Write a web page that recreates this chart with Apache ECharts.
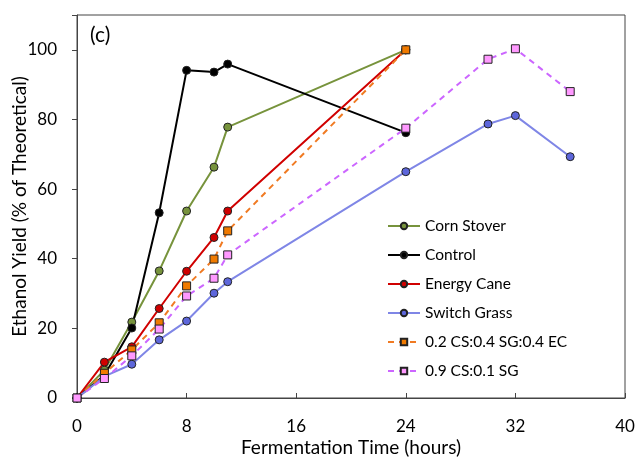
<!DOCTYPE html>
<html>
<head>
<meta charset="utf-8">
<script src="https://cdn.jsdelivr.net/npm/echarts@6/dist/echarts.min.js"></script>
<style>
  body { margin: 0; background: #fff; }
  #main { width: 638px; height: 457px; }
</style>
</head>
<body>
<div id="main"></div>
<script>
// fermentation times (hours)
var times = [0, 2, 4, 6, 8, 10, 11, 24];
var timesLong = [0, 2, 4, 6, 8, 10, 11, 24, 30, 32, 36];

var cornStover = [0, 8, 21.8, 36.5, 53.7, 66.3, 77.8, 100];
var control = [0, 6.5, 20.1, 53.2, 94.1, 93.6, 95.9, 76.2];
var energyCane = [0, 10.3, 14.7, 25.7, 36.4, 46.1, 53.7, 100];
var switchGrass = [0, 6.2, 9.7, 16.7, 22.1, 30.1, 33.4, 65.0, 78.7, 81.1, 69.3];
var mixEC = [0, 7.1, 13.8, 21.6, 32.2, 39.9, 48.0, 100];
var mixSG = [0, 5.6, 12.1, 19.8, 29.3, 34.4, 41.1, 77.5, 97.3, 100.3, 88.0];

var xTicks = [0, 8, 16, 24, 32, 40];
var yTicks = [0, 20, 40, 60, 80, 100];

function pairs(xs, ys) {
  return ys.map(function (v, i) { return [xs[i], v]; });
}

var myChart = echarts.init(document.getElementById('main'));

function lineSeries(name, xs, ys, color, fill, symbol, dashed) {
  return {
    name: name,
    type: 'line',
    data: pairs(xs, ys),
    symbol: symbol,
    symbolSize: 8,
    showAllSymbol: true,
    lineStyle: { color: color, width: 2, type: dashed ? [6, 5] : 'solid' },
    itemStyle: { color: fill, borderColor: '#222', borderWidth: 1 },
    z: 3
  };
}

var option = {
  animation: false,
  textStyle: { fontFamily: 'Lato' },
  title: {
    text: '(c)',
    left: 85,
    top: 20,
    textStyle: { fontSize: 21, fontWeight: 'normal', color: '#000', fontFamily: 'Lato' }
  },
  grid: {
    left: 77, right: 13, top: 15, bottom: 59,
    outerBoundsMode: 'none',
    containLabel: false,
    show: true, borderColor: '#444', borderWidth: 1
  },
  legend: {
    orient: 'vertical',
    left: 382,
    top: 213,
    itemWidth: 32,
    itemHeight: 8,
    itemGap: 13,
    textStyle: { fontSize: 15.5, color: '#000', fontFamily: 'Lato' },
    data: ['Corn Stover', 'Control', 'Energy Cane', 'Switch Grass',
      '0.2 CS:0.4 SG:0.4 EC', '0.9 CS:0.1 SG']
  },
  xAxis: {
    type: 'value',
    min: 0, max: 40, interval: 8,
    name: 'Fermentation Time (hours)',
    nameLocation: 'middle',
    nameGap: 40,
    nameMoveOverlap: false,
    nameTextStyle: { fontSize: 19, color: '#000' },
    axisLine: { lineStyle: { color: '#444' } },
    axisTick: { inside: true, length: 5, lineStyle: { color: '#444' } },
    axisLabel: { fontSize: 17, color: '#000', margin: 20 },
    splitLine: { show: false }
  },
  yAxis: {
    type: 'value',
    min: 0, max: 110, interval: 20,
    name: 'Ethanol Yield (% of Theoretical)',
    nameLocation: 'middle',
    nameGap: 48,
    nameMoveOverlap: false,
    nameTextStyle: { fontSize: 19, color: '#000' },
    axisLine: { show: true, lineStyle: { color: '#444' } },
    axisTick: { show: true, length: 5, lineStyle: { color: '#444' } },
    axisLabel: {
      fontSize: 17, color: '#000', margin: 20,
      formatter: function (v) { return yTicks.indexOf(v) >= 0 ? String(v) : ''; }
    },
    splitLine: { show: false }
  },
  series: [
    lineSeries('Corn Stover', times, cornStover, '#77933c', '#77933c', 'circle', false),
    lineSeries('Control', times, control, '#000', '#000', 'circle', false),
    lineSeries('Energy Cane', times, energyCane, '#d00000', '#d00000', 'circle', false),
    lineSeries('Switch Grass', timesLong, switchGrass, '#7f86e6', '#5d66db', 'circle', false),
    lineSeries('0.2 CS:0.4 SG:0.4 EC', times, mixEC, '#f07a22', '#f07a00', 'rect', true),
    lineSeries('0.9 CS:0.1 SG', timesLong, mixSG, '#cc66ff', '#ff99ff', 'rect', true)
  ]
};

myChart.setOption(option);
</script>
</body>
</html>
